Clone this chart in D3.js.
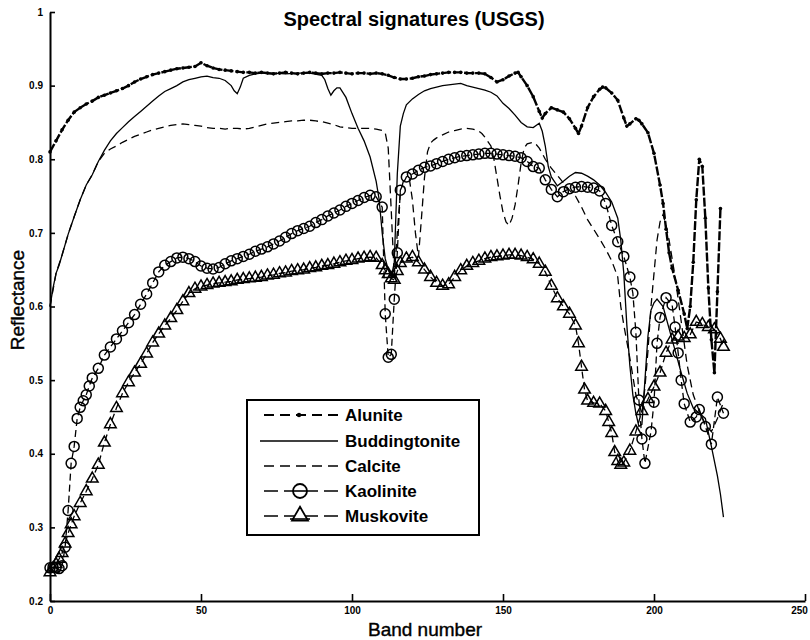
<!DOCTYPE html>
<html>
<head>
<meta charset="utf-8">
<script src="https://cdn.jsdelivr.net/npm/d3@7"></script>
<style>
  body { margin: 0; background: #fff; }
  svg { display: block; }
</style>
</head>
<body>
<div id="chart"></div>
<script>
//*************************1. Data (band number, reflectance)

const alunite = [[0,0.81],[2,0.825],[4,0.84],[6,0.853],[8,0.864],[10,0.87],[12,0.875],[14,0.879],[16,0.884],[18,0.887],[20,0.89],[22,0.893],[24,0.896],[26,0.9],[28,0.905],[30,0.909],[32,0.912],[34,0.915],[36,0.917],[38,0.919],[40,0.921],[42,0.923],[44,0.924],[46,0.925],[48,0.926],[50,0.931],[52,0.927],[54,0.924],[56,0.922],[58,0.921],[60,0.92],[62,0.919],[64,0.918],[66,0.918],[68,0.917],[70,0.918],[72,0.917],[74,0.916],[76,0.917],[78,0.918],[80,0.917],[82,0.916],[84,0.917],[86,0.918],[88,0.917],[90,0.916],[92,0.917],[94,0.917],[96,0.918],[98,0.917],[100,0.916],[102,0.917],[104,0.917],[106,0.916],[108,0.917],[110,0.916],[112,0.914],[114,0.911],[116,0.909],[118,0.909],[120,0.91],[122,0.912],[124,0.913],[126,0.915],[128,0.916],[130,0.917],[132,0.918],[134,0.918],[136,0.918],[138,0.917],[140,0.917],[142,0.917],[144,0.916],[146,0.911],[148,0.905],[150,0.908],[152,0.913],[154,0.917],[155,0.918],[156,0.912],[158,0.9],[160,0.885],[162,0.865],[163,0.856],[164,0.862],[166,0.87],[168,0.867],[170,0.864],[172,0.855],[174,0.842],[175,0.835],[176,0.845],[178,0.87],[180,0.885],[182,0.895],[183,0.898],[184,0.897],[186,0.89],[188,0.88],[190,0.856],[191,0.845],[192,0.848],[194,0.855],[195,0.853],[196,0.848],[198,0.836],[200,0.808],[202,0.765],[203,0.74],[204,0.705],[205,0.673],[206,0.652],[208,0.622],[210,0.59],[211,0.57],[212,0.6],[213,0.66],[214,0.745],[215,0.8],[216,0.79],[217,0.72],[218,0.625],[219,0.555],[220,0.51],[221,0.62],[222,0.733]]

const buddingtonite = [[0,0.6],[1,0.625],[2,0.645],[3,0.656],[4,0.67],[6,0.698],[8,0.722],[10,0.745],[12,0.765],[14,0.779],[16,0.797],[18,0.812],[20,0.825],[22,0.835],[24,0.843],[26,0.851],[28,0.858],[30,0.865],[32,0.872],[34,0.879],[36,0.886],[38,0.892],[40,0.896],[42,0.9],[44,0.905],[46,0.908],[48,0.91],[50,0.912],[52,0.913],[54,0.911],[56,0.91],[58,0.907],[60,0.9],[61,0.893],[62,0.889],[63,0.898],[64,0.91],[66,0.914],[68,0.916],[70,0.917],[74,0.917],[78,0.916],[82,0.917],[86,0.917],[90,0.914],[91,0.908],[92,0.896],[93,0.887],[94,0.893],[95,0.897],[96,0.897],[98,0.884],[100,0.862],[102,0.842],[104,0.825],[106,0.803],[108,0.77],[109,0.745],[110,0.7],[111,0.665],[112,0.65],[113,0.64],[114,0.66],[115,0.78],[116,0.845],[117,0.862],[118,0.874],[120,0.882],[122,0.888],[124,0.893],[126,0.896],[128,0.898],[130,0.9],[132,0.901],[134,0.902],[136,0.903],[138,0.9],[140,0.898],[142,0.896],[144,0.894],[146,0.891],[148,0.886],[150,0.876],[152,0.869],[154,0.86],[156,0.85],[158,0.844],[160,0.843],[162,0.849],[163,0.838],[164,0.818],[165,0.79],[166,0.776],[168,0.764],[170,0.77],[172,0.777],[174,0.782],[176,0.781],[178,0.777],[180,0.772],[182,0.765],[184,0.755],[186,0.742],[188,0.72],[189,0.69],[190,0.645],[191,0.575],[192,0.52],[193,0.48],[194,0.455],[195,0.437],[196,0.44],[197,0.5],[198,0.56],[199,0.595],[200,0.605],[201,0.61],[203,0.6],[205,0.57],[207,0.54],[209,0.51],[211,0.482],[213,0.462],[215,0.455],[217,0.448],[219,0.41],[221,0.37],[222,0.345],[223,0.314]]

const calcite = [[0,0.6],[2,0.645],[4,0.67],[6,0.698],[8,0.722],[10,0.745],[12,0.765],[14,0.779],[16,0.797],[18,0.808],[20,0.814],[22,0.818],[24,0.823],[26,0.827],[28,0.831],[30,0.834],[32,0.837],[34,0.84],[36,0.842],[38,0.844],[40,0.846],[42,0.847],[44,0.848],[46,0.847],[48,0.846],[50,0.845],[52,0.843],[54,0.842],[56,0.842],[58,0.841],[60,0.842],[62,0.842],[64,0.841],[66,0.842],[68,0.844],[70,0.846],[72,0.848],[74,0.849],[76,0.85],[78,0.851],[80,0.852],[82,0.852],[84,0.853],[86,0.853],[88,0.852],[90,0.851],[92,0.849],[94,0.847],[96,0.844],[98,0.843],[100,0.842],[102,0.842],[104,0.842],[106,0.842],[108,0.841],[110,0.839],[111,0.836],[112,0.815],[113,0.73],[114,0.64],[115,0.7],[116,0.755],[117,0.77],[118,0.774],[119,0.773],[120,0.745],[121,0.7],[122,0.667],[123,0.72],[124,0.775],[125,0.81],[126,0.822],[127,0.826],[128,0.829],[130,0.833],[132,0.837],[134,0.839],[136,0.841],[138,0.842],[140,0.841],[142,0.838],[143,0.835],[144,0.83],[146,0.818],[147,0.8],[148,0.775],[149,0.75],[150,0.728],[151,0.715],[152,0.71],[153,0.72],[154,0.738],[155,0.765],[156,0.795],[157,0.815],[158,0.821],[160,0.823],[161,0.82],[162,0.815],[163,0.808],[164,0.8],[166,0.788],[168,0.778],[170,0.768],[172,0.758],[174,0.75],[176,0.735],[178,0.718],[180,0.705],[182,0.692],[184,0.678],[186,0.662],[188,0.64],[189,0.6],[190,0.575],[192,0.53],[194,0.48],[196,0.455],[197,0.49],[198,0.54],[199,0.6],[200,0.645],[201,0.69],[202,0.715],[203,0.725],[204,0.71],[205,0.69],[207,0.64],[209,0.58],[211,0.52],[213,0.48],[215,0.458],[217,0.44],[219,0.43],[221,0.448],[223,0.47]]

const kaolinite = [[0,0.245],[1,0.246],[2,0.245],[3,0.244],[4,0.248],[5,0.273],[6,0.323],[7,0.387],[8,0.41],[9,0.448],[10,0.463],[11,0.472],[12,0.48],[13,0.492],[14,0.503],[16,0.516],[18,0.534],[20,0.545],[22,0.556],[24,0.567],[26,0.578],[28,0.589],[30,0.603],[32,0.617],[34,0.632],[36,0.647],[38,0.656],[40,0.661],[42,0.666],[44,0.667],[46,0.665],[48,0.661],[50,0.655],[52,0.652],[54,0.651],[56,0.653],[58,0.658],[60,0.662],[62,0.665],[64,0.668],[66,0.671],[68,0.675],[70,0.678],[72,0.681],[74,0.685],[76,0.689],[78,0.694],[80,0.699],[82,0.703],[84,0.706],[86,0.709],[88,0.714],[90,0.718],[92,0.723],[94,0.727],[96,0.731],[98,0.736],[100,0.74],[102,0.744],[104,0.748],[106,0.751],[108,0.749],[110,0.735],[111,0.59],[112,0.531],[113,0.535],[114,0.61],[115,0.673],[116,0.758],[118,0.776],[120,0.78],[122,0.785],[124,0.789],[126,0.791],[128,0.794],[130,0.797],[132,0.8],[134,0.802],[136,0.804],[138,0.805],[140,0.806],[142,0.807],[144,0.808],[146,0.808],[148,0.807],[150,0.806],[152,0.805],[154,0.804],[156,0.802],[158,0.797],[160,0.79],[162,0.788],[164,0.772],[166,0.759],[168,0.749],[170,0.756],[172,0.76],[174,0.762],[176,0.763],[178,0.762],[180,0.761],[182,0.757],[184,0.74],[186,0.71],[188,0.688],[190,0.668],[192,0.64],[193,0.618],[194,0.565],[195,0.473],[196,0.42],[197,0.387],[199,0.43],[200,0.47],[201,0.55],[202,0.585],[204,0.612],[206,0.602],[207,0.572],[208,0.537],[209,0.5],[210,0.468],[212,0.443],[214,0.45],[215,0.46],[217,0.437],[219,0.413],[221,0.477],[223,0.455]]

const muskovite = [[0,0.239],[1,0.244],[2,0.25],[3,0.257],[4,0.265],[5,0.278],[6,0.292],[7,0.304],[8,0.315],[10,0.333],[12,0.349],[14,0.366],[16,0.385],[18,0.415],[20,0.44],[22,0.462],[24,0.482],[26,0.497],[28,0.51],[30,0.522],[32,0.536],[34,0.551],[36,0.563],[38,0.574],[40,0.584],[42,0.595],[44,0.607],[46,0.618],[48,0.624],[50,0.627],[52,0.629],[54,0.631],[56,0.632],[58,0.633],[60,0.634],[62,0.636],[64,0.637],[66,0.638],[68,0.639],[70,0.64],[72,0.642],[74,0.643],[76,0.645],[78,0.646],[80,0.648],[82,0.649],[84,0.65],[86,0.652],[88,0.653],[90,0.655],[92,0.656],[94,0.658],[96,0.66],[98,0.662],[100,0.663],[102,0.665],[104,0.666],[106,0.667],[108,0.666],[110,0.656],[111,0.649],[112,0.644],[113,0.638],[114,0.636],[115,0.648],[116,0.659],[118,0.665],[120,0.667],[122,0.66],[124,0.65],[126,0.64],[128,0.632],[130,0.628],[132,0.63],[134,0.64],[136,0.649],[138,0.655],[140,0.659],[142,0.662],[144,0.665],[146,0.667],[148,0.668],[150,0.669],[152,0.67],[154,0.67],[156,0.669],[158,0.667],[160,0.664],[162,0.658],[164,0.647],[166,0.628],[168,0.611],[170,0.6],[172,0.59],[174,0.574],[175,0.55],[176,0.518],[177,0.487],[178,0.472],[180,0.469],[182,0.468],[184,0.458],[185,0.443],[186,0.428],[187,0.402],[188,0.39],[189,0.385],[190,0.388],[192,0.404],[194,0.43],[196,0.458],[198,0.474],[200,0.491],[202,0.51],[204,0.537],[206,0.555],[208,0.559],[210,0.557],[212,0.562],[214,0.579],[216,0.576],[218,0.572],[220,0.569],[222,0.556],[223,0.545]]

const legendNames = ["Alunite","Buddingtonite","Calcite","Kaolinite","Muskovite"]
const xTicks = [0,50,100,150,200,250]
const yTicks = [0.2,0.3,0.4,0.5,0.6,0.7,0.8,0.9,1]

async function draw() {

//*************************2. Dimensions

    const dimensions = {
        width: 810,
        height: 640,
        margin: { top: 12, right: 5, bottom: 39, left: 50 }
    }
    dimensions.boundedWidth = dimensions.width - dimensions.margin.left - dimensions.margin.right
    dimensions.boundedHeight = dimensions.height - dimensions.margin.top - dimensions.margin.bottom

    const font = "'Liberation Sans', Arial, sans-serif"

//*************************3. Wrapper and bounds

    const wrapper = d3.select("#chart")
        .append("svg")
        .attr("width", dimensions.width)
        .attr("height", dimensions.height)
        .style("background", "#fff")

    const bounds = wrapper.append("g")
        .attr("transform", `translate(${dimensions.margin.left},${dimensions.margin.top})`)

//--------------------accessors
    const bandAccessor = d => d[0]
    const reflAccessor = d => d[1]

//*************************4. Scales

    const xScale = d3.scaleLinear()
        .domain([0, 250])
        .range([0, dimensions.boundedWidth])

    const yScale = d3.scaleLinear()
        .domain([0.2, 1])
        .range([dimensions.boundedHeight, 0])

//*************************5. Peripherals

    const yAxisGenerator = d3.axisLeft(yScale)
        .tickValues(yTicks)
        .tickFormat(d => d === 1 ? "1" : d3.format(".1f")(d))
        .tickSizeInner(-5)
        .tickSizeOuter(0)
        .tickPadding(7)

    const xAxisGenerator = d3.axisBottom(xScale)
        .tickValues(xTicks)
        .tickSizeInner(-7)
        .tickSizeOuter(0)
        .tickPadding(6)

    const yAxis = bounds.append("g").call(yAxisGenerator)
    const xAxis = bounds.append("g")
        .attr("transform", `translate(0,${dimensions.boundedHeight})`)
        .call(xAxisGenerator)

    ;[xAxis, yAxis].forEach(ax => {
        ax.select(".domain").attr("stroke", "#000").attr("stroke-width", 2)
        ax.selectAll(".tick line").attr("stroke", "#000").attr("stroke-width", 1.6)
        ax.selectAll(".tick text")
            .attr("fill", "#000")
            .style("font-family", font)
            .style("font-weight", "bold")
            .style("font-size", "10px")
    })
    // last x label sits on the right edge, nudge it inside
    xAxis.selectAll(".tick text").filter(d => d === 250).attr("dx", "-6")

    wrapper.append("text")
        .attr("x", 414)
        .attr("y", 26)
        .attr("text-anchor", "middle")
        .style("font-family", font)
        .style("font-weight", "bold")
        .style("font-size", "20px")
        .text("Spectral signatures (USGS)")

    wrapper.append("text")
        .attr("x", 425)
        .attr("y", 636)
        .attr("text-anchor", "middle")
        .style("font-family", font)
        .style("font-size", "19px")
        .style("stroke", "#000")
        .style("stroke-width", 0.4)
        .text("Band number")

    wrapper.append("text")
        .attr("transform", "translate(24,300) rotate(-90)")
        .attr("text-anchor", "middle")
        .style("font-family", font)
        .style("font-size", "19px")
        .style("stroke", "#000")
        .style("stroke-width", 0.4)
        .text("Reflectance")

//*************************6. Lines and markers

    const lineGenerator = d3.line()
        .x(d => xScale(bandAccessor(d)))
        .y(d => yScale(reflAccessor(d)))

    const lines = bounds.append("g").attr("fill", "none").attr("stroke", "#000")

    lines.append("path")
        .attr("d", lineGenerator(calcite))
        .attr("stroke-width", 1.3)
        .attr("stroke-dasharray", "8,5")

    lines.append("path")
        .attr("d", lineGenerator(buddingtonite))
        .attr("stroke-width", 1.3)

    lines.append("path")
        .attr("d", lineGenerator(kaolinite))
        .attr("stroke-width", 1.3)
        .attr("stroke-dasharray", "7,4")

    lines.append("path")
        .attr("d", lineGenerator(muskovite))
        .attr("stroke-width", 1.3)
        .attr("stroke-dasharray", "7,4")

    lines.append("path")
        .attr("d", lineGenerator(alunite))
        .attr("stroke-width", 2.4)
        .attr("stroke-dasharray", "9,2")

    bounds.append("g").selectAll("circle")
        .data(alunite)
        .join("circle")
        .attr("cx", d => xScale(bandAccessor(d)))
        .attr("cy", d => yScale(reflAccessor(d)))
        .attr("r", 1.8)
        .attr("fill", "#000")

    bounds.append("g").selectAll("circle")
        .data(kaolinite)
        .join("circle")
        .attr("cx", d => xScale(bandAccessor(d)))
        .attr("cy", d => yScale(reflAccessor(d)))
        .attr("r", 5)
        .attr("fill", "none")
        .attr("stroke", "#000")
        .attr("stroke-width", 1.5)

    const triangle = d3.symbol().type(d3.symbolTriangle).size(58)

    bounds.append("g").selectAll("path")
        .data(muskovite)
        .join("path")
        .attr("d", triangle)
        .attr("transform", d => `translate(${xScale(bandAccessor(d))},${yScale(reflAccessor(d))})`)
        .attr("fill", "none")
        .attr("stroke", "#000")
        .attr("stroke-width", 1.5)

//*************************7. Legend

    const legend = wrapper.append("g")
    legend.append("rect")
        .attr("x", 247).attr("y", 400)
        .attr("width", 232).attr("height", 135)
        .attr("fill", "#fff")
        .attr("stroke", "#000")
        .attr("stroke-width", 2)

    const rowY = [415, 441, 466, 491, 516]
    const dashes = ["10,6", null, "10,6", "14,6", "14,6"]

    legendNames.forEach((name, i) => {
        const g = legend.append("g").attr("transform", `translate(0,${rowY[i]})`)
        g.append("line")
            .attr("x1", i === 1 ? 260 : 264).attr("x2", 338)
            .attr("stroke", "#000")
            .attr("stroke-width", i === 0 ? 2.2 : 1.6)
            .attr("stroke-dasharray", dashes[i])
        if (i === 0) {
            g.append("circle").attr("cx", 299).attr("r", 2.2).attr("fill", "#000")
        }
        if (i === 3) {
            g.append("circle").attr("cx", 300).attr("r", 7)
                .attr("fill", "#fff").attr("stroke", "#000").attr("stroke-width", 1.8)
            g.append("line").attr("x1", 293).attr("x2", 307)
                .attr("stroke", "#000").attr("stroke-width", 1.6)
        }
        if (i === 4) {
            g.append("path")
                .attr("d", d3.symbol().type(d3.symbolTriangle).size(110)())
                .attr("transform", "translate(300,0)")
                .attr("fill", "#fff").attr("stroke", "#000").attr("stroke-width", 1.8)
            g.append("line").attr("x1", 290).attr("x2", 310).attr("y1", 3).attr("y2", 3)
                .attr("stroke", "#000").attr("stroke-width", 1.6)
        }
        g.append("text")
            .attr("x", 345)
            .attr("dy", "0.36em")
            .style("font-family", font)
            .style("font-weight", "bold")
            .style("font-size", "17px")
            .text(name)
    })
}
draw()
</script>
</body>
</html>
